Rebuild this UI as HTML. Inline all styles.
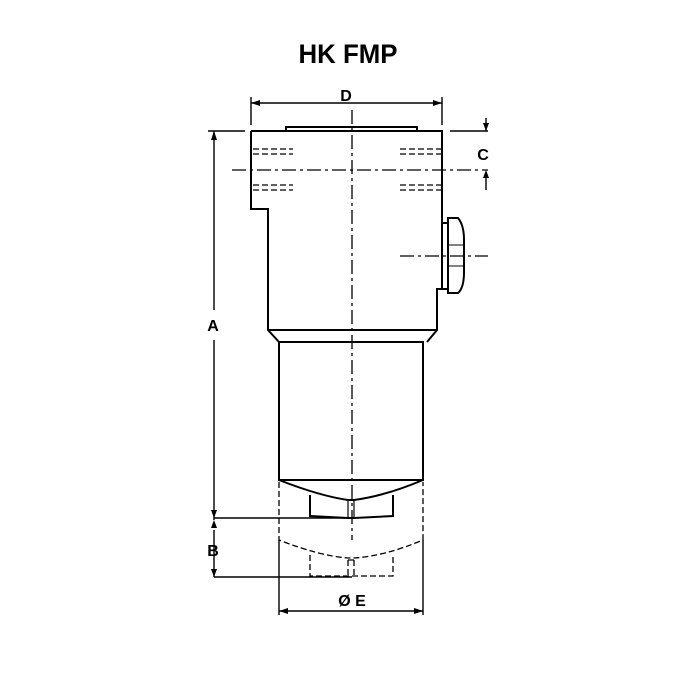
<!DOCTYPE html>
<html><head><style>body{margin:0;background:#fff}svg{display:block}</style></head><body>
<svg width="700" height="700" viewBox="0 0 700 700" xmlns="http://www.w3.org/2000/svg" font-family="Liberation Sans, sans-serif" font-weight="bold">
<rect width="700" height="700" fill="#fff"/>
<text x="348" y="63" font-size="27" text-anchor="middle" textLength="99" lengthAdjust="spacingAndGlyphs">HK FMP</text>
<g stroke="#000" fill="none" stroke-width="2">
<path d="M251 131 H442 V223 M442 289 H437 V330 L427 342 M251 131 V209 H268 V330 L279 342"/>
<line x1="268" y1="330" x2="437" y2="330"/>
<rect x="286" y="127" width="131" height="4"/>
<rect x="442" y="223" width="6" height="66"/>
<path d="M448 218 H458 Q464 225 464 240 V272 Q464 288 458 293 H448 Z"/>
<path d="M448 245 H463 M448 266 H463" stroke-width="1"/>
<path d="M279 342 H423 V480 H279 Z"/>
<path d="M279 480 Q320 496 348 500 H354 Q385 496 423 480"/>
<path d="M310 495 V516 L348 518 H354 L393 516 V495"/>
<path d="M348 500 V518 M354 500 V518" stroke-width="1.2"/>
</g>
<g stroke="#000" fill="none" stroke-width="1.3" stroke-dasharray="6,3">
<path d="M253 149 H293 M253 154 H293 M253 185 H293 M253 190 H293"/>
<path d="M400 149 H442 M400 154 H442 M400 185 H442 M400 190 H442"/>
<path d="M279 482 V540 Q320 556 348 558 H354 Q385 556 423 540 V482"/>
<path d="M310 555 V576 H393 V555 M348 560 V577 M354 560 V577 M348 560 H354"/>
</g>
<g stroke="#000" fill="none" stroke-width="1.3" stroke-dasharray="14,4,3,4">
<line x1="352" y1="110" x2="352" y2="540"/>
<line x1="232" y1="170" x2="488" y2="170"/>
<line x1="400" y1="256" x2="488" y2="256"/>
</g>
<g stroke="#000" fill="none" stroke-width="1.4">
<path d="M251 97 V125 M442 97 V125 M251 103 H442"/>
<path d="M208 131 H245 M214 131 V310 M214 340 V520 M214 530 V577"/>
<path d="M214 518 H352 M214 577 H352"/>
<path d="M450 131 H488 M486 118 V131 M486 172 V190"/>
<path d="M279 540 V615 M423 540 V615 M279 611 H423"/>
</g>
<g fill="#000">
<path d="M251 103 l9 -3 v6 z M442 103 l-9 -3 v6 z"/>
<path d="M214 131 l-3 9 h6 z"/>
<path d="M214 518 l-3 -8 h6 z M214 520 l-3 8 h6 z M214 577 l-3 -8 h6 z"/>
<path d="M486 131 l-3 -8 h6 z M486 170 l-3 8 h6 z"/>
<path d="M279 611 l9 -3 v6 z M423 611 l-9 -3 v6 z"/>
</g>
<g font-size="16" text-anchor="middle">
<text x="346" y="101">D</text>
<text x="483" y="160">C</text>
<text x="213" y="331">A</text>
<text x="213" y="556">B</text>
<text x="352" y="606">Ø E</text>
</g>
</svg>
</body></html>
